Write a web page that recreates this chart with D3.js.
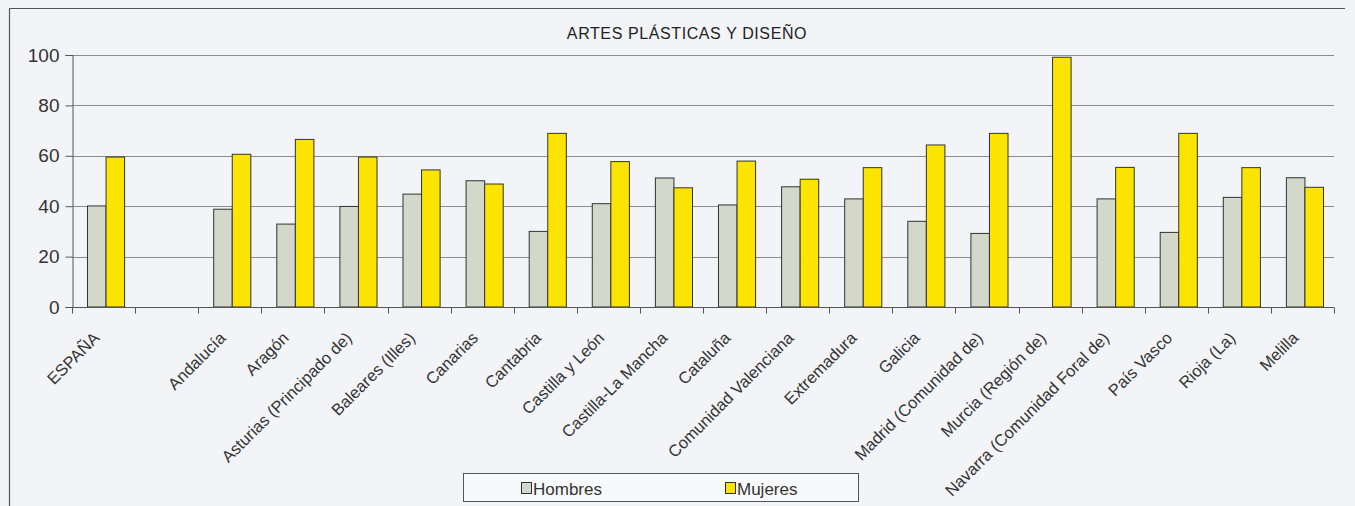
<!DOCTYPE html>
<html>
<head>
<meta charset="utf-8">
<script src="https://cdn.jsdelivr.net/npm/d3@7"></script>
<style>
  html, body { margin: 0; padding: 0; background: #f3f4f8; }
  svg { display: block; font-family: Arial, "Liberation Sans", sans-serif; }
</style>
</head>
<body>
<svg id="chart" width="1355" height="506"></svg>
<script>
const title = "ARTES PLÁSTICAS Y DISEÑO";
const categories = ["ESPAÑA", " ", "Andalucía", "Aragón", "Asturias (Principado de)", "Baleares (Illes)",
  "Canarias", "Cantabria", "Castilla y León", "Castilla-La Mancha", "Cataluña", "Comunidad Valenciana",
  "Extremadura", "Galicia", "Madrid (Comunidad de)", "Murcia (Región de)", "Navarra (Comunidad Foral de)",
  "País Vasco", "Rioja (La)", "Melilla"];
const seriesNames = ["Hombres", "Mujeres"];
const hombres = [40.1, null, 38.8, 32.9, 39.9, 44.8, 50.1, 30.0, 41.0, 51.2, 40.5, 47.7, 42.9, 34.0, 29.2, 0, 42.9, 29.6, 43.5, 51.3];
const mujeres = [59.5, null, 60.6, 66.5, 59.5, 54.4, 48.8, 68.9, 57.7, 47.3, 57.9, 50.7, 55.3, 64.3, 68.9, 99.1, 55.4, 68.9, 55.3, 47.5];
const yTicks = [0, 20, 40, 60, 80, 100];
const colors = { Hombres: "#d4d8ca", Mujeres: "#fbe500" };

const svg = d3.select("#chart");

// outer frame of the chart (left and top edges visible)
svg.append("line").attr("x1", 9.5).attr("x2", 1345).attr("y1", 8.5).attr("y2", 8.5)
  .attr("stroke", "#555").attr("stroke-width", 1.2);
svg.append("line").attr("x1", 9.5).attr("x2", 9.5).attr("y1", 8.5).attr("y2", 506)
  .attr("stroke", "#555").attr("stroke-width", 1.2);

const x = d3.scaleBand().domain(categories).range([72, 1334]).paddingInner(0).paddingOuter(0);
const xs = d3.scaleBand().domain(seriesNames).range([2, x.bandwidth() + 2]).paddingInner(0).paddingOuter(0.7);
const y = d3.scaleLinear().domain([0, 100]).range([307, 55]);

// title
svg.append("text").attr("x", 687).attr("y", 39).attr("text-anchor", "middle")
  .attr("font-size", 16).attr("fill", "#222").attr("letter-spacing", 0.6).text(title);

// gridlines
svg.append("g").selectAll("line").data(yTicks.filter(d => d > 0)).join("line")
  .attr("x1", 72).attr("x2", 1334)
  .attr("y1", d => Math.round(y(d)) + 0.5).attr("y2", d => Math.round(y(d)) + 0.5)
  .attr("stroke", "#8a8a90").attr("stroke-width", 1);

// y axis
const yAxis = svg.append("g").attr("transform", "translate(72.5,0)")
  .call(d3.axisLeft(y).tickValues(yTicks).tickSize(7).tickPadding(6));
yAxis.select(".domain").attr("stroke", "#555");
yAxis.selectAll(".tick line").attr("stroke", "#555");
yAxis.selectAll(".tick text").attr("font-size", 19).attr("fill", "#333")
  .attr("font-family", "Arial, 'Liberation Sans', sans-serif");

// bars
const rows = categories.map((c, i) => ({ cat: c, Hombres: hombres[i], Mujeres: mujeres[i] }));
const groups = svg.append("g").selectAll("g").data(rows).join("g")
  .attr("transform", d => `translate(${x(d.cat)},0)`);
groups.selectAll("rect").data(d => seriesNames.filter(s => d[s] !== null).map(s => ({ s, v: d[s] })))
  .join("rect")
  .attr("x", d => xs(d.s) + 0.5)
  .attr("width", xs.bandwidth())
  .attr("y", d => y(d.v))
  .attr("height", d => y(0) - y(d.v))
  .attr("fill", d => colors[d.s])
  .attr("stroke", "#333").attr("stroke-width", 1);

// x axis
const xAxis = svg.append("g").attr("transform", "translate(0,307.5)");
xAxis.append("line").attr("x1", 72).attr("x2", 1334).attr("stroke", "#555");
const bounds = categories.map(c => x(c)).concat([x(categories[categories.length - 1]) + x.bandwidth()]);
xAxis.selectAll("line.tk").data(bounds).join("line").attr("class", "tk")
  .attr("x1", d => Math.round(d) + 0.5).attr("x2", d => Math.round(d) + 0.5)
  .attr("y1", 0).attr("y2", 6).attr("stroke", "#555");

// x labels
svg.append("g").selectAll("text").data(categories).join("text")
  .attr("transform", d => `translate(${x(d) + x.bandwidth() / 2 - 3},${339}) rotate(-45)`)
  .attr("text-anchor", "end")
  .attr("font-size", 16.5).attr("fill", "#333")
  .text(d => d.trim());

// legend
const lg = svg.append("g");
lg.append("rect").attr("x", 463.5).attr("y", 473.5).attr("width", 395).attr("height", 28)
  .attr("fill", "#f8f9fb").attr("stroke", "#555").attr("stroke-width", 1);
const legendItems = [{ s: "Hombres", x: 521 }, { s: "Mujeres", x: 725 }];
legendItems.forEach(it => {
  lg.append("rect").attr("x", it.x + 0.5).attr("y", 482.5).attr("width", 10).attr("height", 11)
    .attr("fill", colors[it.s]).attr("stroke", "#333");
  lg.append("text").attr("x", it.x + 12).attr("y", 495).attr("font-size", 17).attr("fill", "#333").text(it.s);
});
</script>
</body>
</html>
